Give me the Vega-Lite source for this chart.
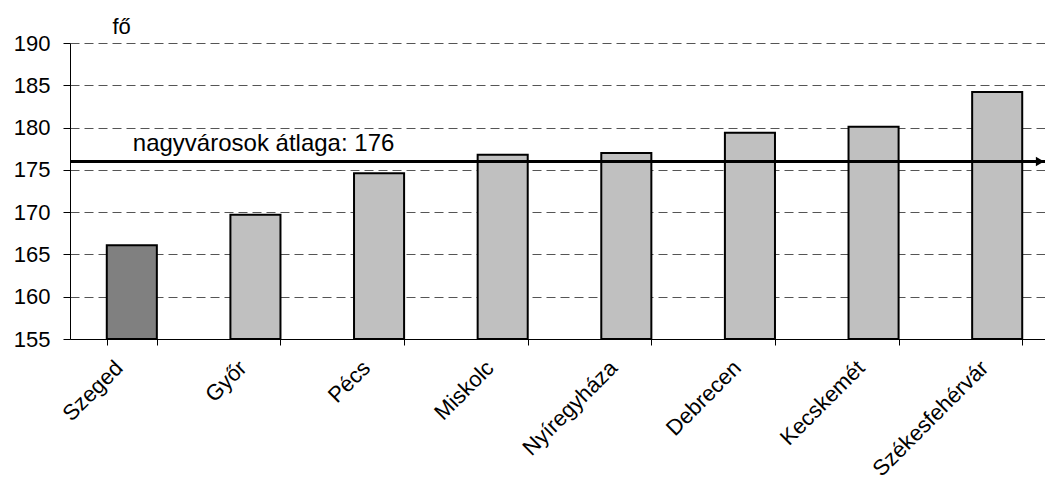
{
  "$schema": "https://vega.github.io/schema/vega-lite/v6.json",
  "width": 975,
  "height": 296,
  "padding": {"left": 13, "top": 15, "right": 0, "bottom": 0},
  "autosize": {"type": "pad"},
  "config": {"view": {"stroke": null}, "font": "Liberation Sans"},
  "data": {
    "values": [
      {"city": "Szeged", "value": 166.1, "group": "Szeged"},
      {"city": "Győr", "value": 169.7, "group": "other"},
      {"city": "Pécs", "value": 174.6, "group": "other"},
      {"city": "Miskolc", "value": 176.8, "group": "other"},
      {"city": "Nyíregyháza", "value": 177.0, "group": "other"},
      {"city": "Debrecen", "value": 179.4, "group": "other"},
      {"city": "Kecskemét", "value": 180.1, "group": "other"},
      {"city": "Székesfehérvár", "value": 184.2, "group": "other"}
    ]
  },
  "layer": [
    {
      "mark": {"type": "bar", "stroke": "black", "strokeWidth": 2},
      "encoding": {
        "x": {
          "field": "city",
          "type": "nominal",
          "sort": ["Szeged", "Győr", "Pécs", "Miskolc", "Nyíregyháza", "Debrecen", "Kecskemét", "Székesfehérvár"],
          "scale": {"range": [0, 989], "paddingInner": 0.595, "paddingOuter": 0.2975},
          "axis": {
            "title": null,
            "labelAngle": -45,
            "labelAlign": "right",
            "labelBaseline": "middle",
            "labelFontSize": 22,
            "labelColor": "black",
            "labelPadding": 19,
            "labelOffset": -13,
            "tickBand": "extent",
            "tickSize": 6,
            "tickColor": "black",
            "domainColor": "black",
            "domainWidth": 1,
            "grid": false
          }
        },
        "y": {
          "field": "value",
          "type": "quantitative",
          "scale": {"domain": [155, 190], "zero": false, "nice": false},
          "axis": {
            "values": [155, 160, 165, 170, 175, 180, 185, 190],
            "title": "fő",
            "titleAngle": 0,
            "titleAlign": "left",
            "titleBaseline": "middle",
            "titleX": 42,
            "titleY": -17,
            "titleFontSize": 22,
            "titleFontWeight": "normal",
            "titleColor": "black",
            "labelFontSize": 22,
            "labelColor": "black",
            "labelPadding": 13,
            "tickSize": 7,
            "tickColor": "black",
            "domainColor": "black",
            "grid": true,
            "gridColor": "#555555",
            "gridDash": [9, 5],
            "gridWidth": 1
          }
        },
        "y2": {"datum": 155},
        "color": {
          "field": "group",
          "type": "nominal",
          "scale": {"domain": ["Szeged", "other"], "range": ["#808080", "#C0C0C0"]},
          "legend": null
        }
      }
    },
    {
      "data": {"values": [{"avg": 176}]},
      "mark": {"type": "rule", "strokeWidth": 3, "color": "black"},
      "encoding": {"y": {"field": "avg", "type": "quantitative"}}
    },
    {
      "data": {"values": [{"avg": 176}]},
      "mark": {"type": "point", "shape": "triangle-right", "filled": true, "color": "black", "size": 90, "opacity": 1, "xOffset": -5},
      "encoding": {"y": {"field": "avg", "type": "quantitative"}, "x": {"value": "width"}}
    },
    {
      "data": {"values": [{"label": "nagyvárosok átlaga: 176"}]},
      "mark": {"type": "text", "align": "left", "baseline": "middle", "fontSize": 24, "dx": 1, "color": "black"},
      "encoding": {
        "x": {"datum": "Szeged"},
        "y": {"datum": 178},
        "text": {"field": "label"}
      }
    }
  ]
}
